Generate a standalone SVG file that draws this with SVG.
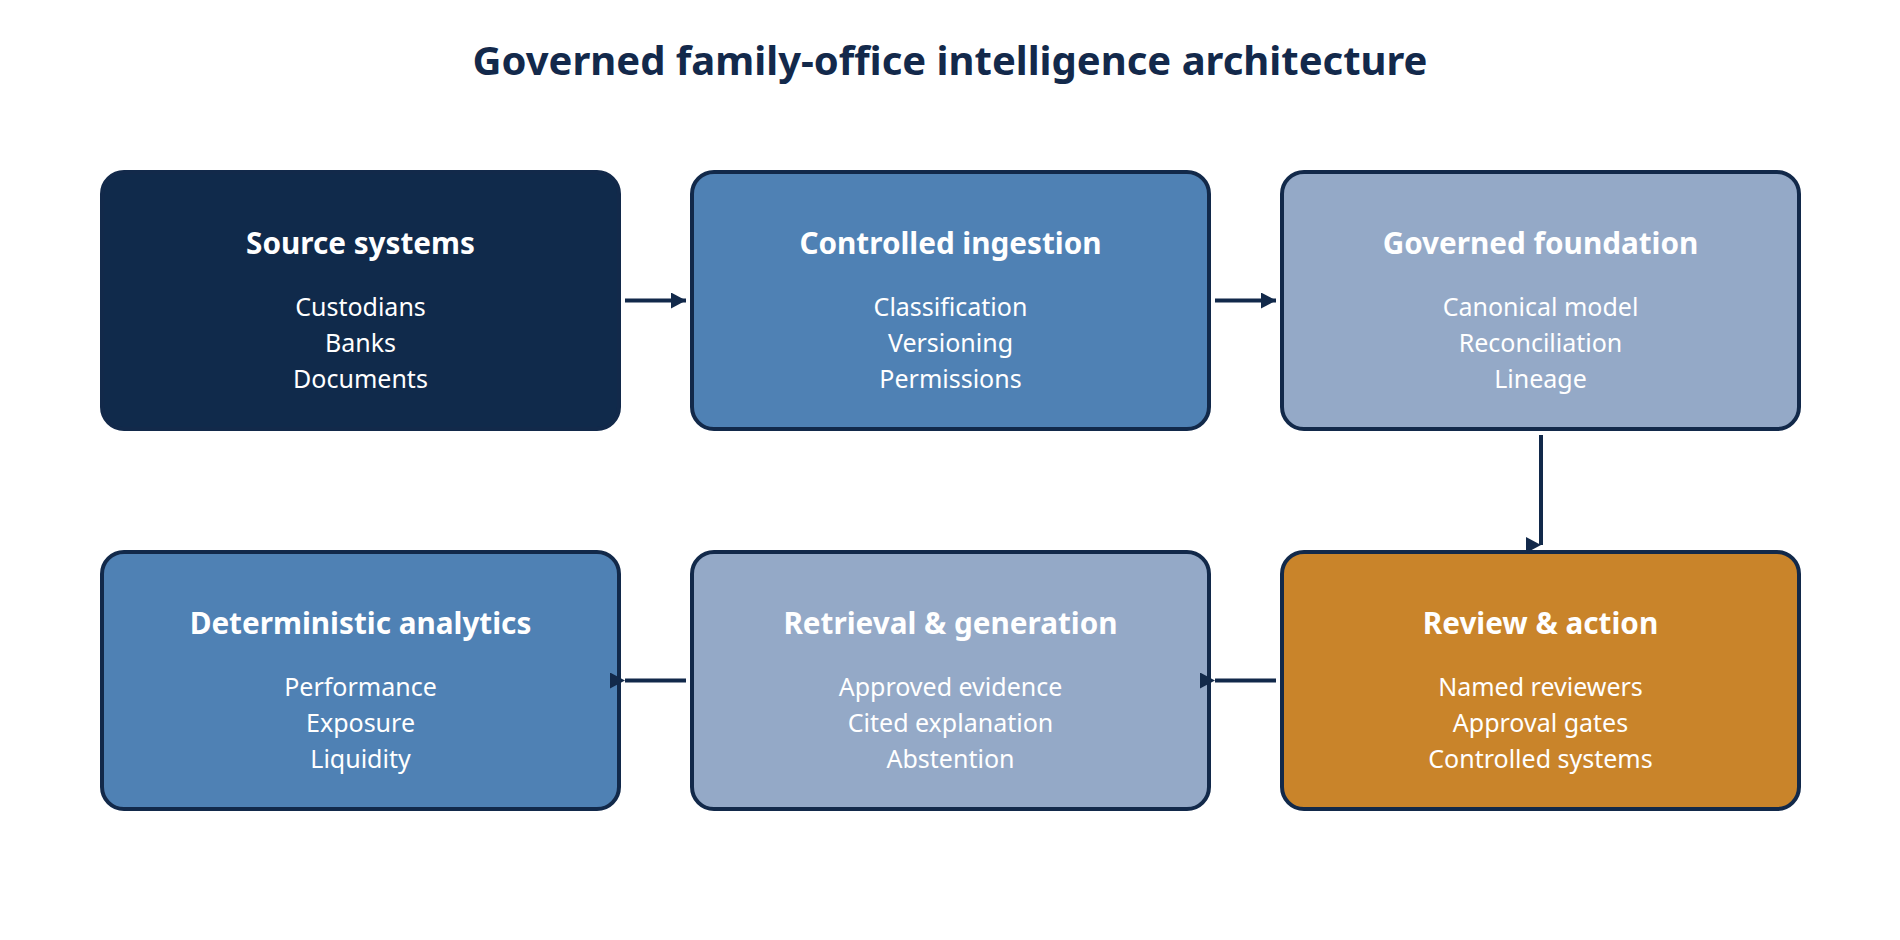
<svg xmlns="http://www.w3.org/2000/svg" width="1900" height="940" viewBox="0 0 1900 940">
  <style>
    .title { font-family: "Noto Sans", "Open Sans", sans-serif; font-weight: 700; font-size: 40px; fill: #13294B; text-anchor: middle; }
    .box { stroke: #12294A; stroke-width: 4; }
    .head { font-family: "Noto Sans", "Open Sans", sans-serif; font-weight: 700; font-size: 29.7px; fill: #FFFFFF; text-anchor: middle; }
    .item { font-family: "Noto Sans", "Open Sans", sans-serif; font-size: 25px; fill: #FFFFFF; text-anchor: middle; }
    .conn { stroke: #12294A; stroke-width: 4; fill: none; marker-end: url(#arrow); }
  </style>
  <defs>
    <marker id="arrow" markerUnits="userSpaceOnUse" markerWidth="16" markerHeight="17" refX="15" refY="8" orient="0">
      <path d="M0,0 L15,8 L0,16 z" fill="#12294A"/>
    </marker>
  </defs>
  <rect width="1900" height="940" fill="#FFFFFF"/>
  <text class="title" x="950" y="75">Governed family-office intelligence architecture</text>

  <g id="node-source">
    <rect class="box" x="102" y="172" width="517" height="257" rx="22" fill="#102A4B" stroke="#102A4B"/>
    <text class="head" x="360.5" y="254">Source systems</text>
    <text class="item" x="360.5" y="316">Custodians</text>
    <text class="item" x="360.5" y="352">Banks</text>
    <text class="item" x="360.5" y="388">Documents</text>
  </g>
  <g id="node-ingestion">
    <rect class="box" x="692" y="172" width="517" height="257" rx="22" fill="#4F81B4"/>
    <text class="head" x="950.5" y="254">Controlled ingestion</text>
    <text class="item" x="950.5" y="316">Classification</text>
    <text class="item" x="950.5" y="352">Versioning</text>
    <text class="item" x="950.5" y="388">Permissions</text>
  </g>
  <g id="node-foundation">
    <rect class="box" x="1282" y="172" width="517" height="257" rx="22" fill="#94A9C7"/>
    <text class="head" x="1540.5" y="254">Governed foundation</text>
    <text class="item" x="1540.5" y="316">Canonical model</text>
    <text class="item" x="1540.5" y="352">Reconciliation</text>
    <text class="item" x="1540.5" y="388">Lineage</text>
  </g>
  <g id="node-analytics">
    <rect class="box" x="102" y="552" width="517" height="257" rx="22" fill="#4F81B4"/>
    <text class="head" x="360.5" y="634">Deterministic analytics</text>
    <text class="item" x="360.5" y="696">Performance</text>
    <text class="item" x="360.5" y="732">Exposure</text>
    <text class="item" x="360.5" y="768">Liquidity</text>
  </g>
  <g id="node-retrieval">
    <rect class="box" x="692" y="552" width="517" height="257" rx="22" fill="#94A9C7"/>
    <text class="head" x="950.5" y="634">Retrieval &amp; generation</text>
    <text class="item" x="950.5" y="696">Approved evidence</text>
    <text class="item" x="950.5" y="732">Cited explanation</text>
    <text class="item" x="950.5" y="768">Abstention</text>
  </g>
  <g id="node-review">
    <rect class="box" x="1282" y="552" width="517" height="257" rx="22" fill="#C9842A"/>
    <text class="head" x="1540.5" y="634">Review &amp; action</text>
    <text class="item" x="1540.5" y="696">Named reviewers</text>
    <text class="item" x="1540.5" y="732">Approval gates</text>
    <text class="item" x="1540.5" y="768">Controlled systems</text>
  </g>

  <g id="connectors">
    <path class="conn" d="M625,300.5 L686,300.5"/>
    <path class="conn" d="M1215,300.5 L1276,300.5"/>
    <path class="conn" d="M1541,435 L1541,545"/>
    <path class="conn" d="M1276,680.5 L1215,680.5"/>
    <path class="conn" d="M686,680.5 L625,680.5"/>
  </g>
</svg>
